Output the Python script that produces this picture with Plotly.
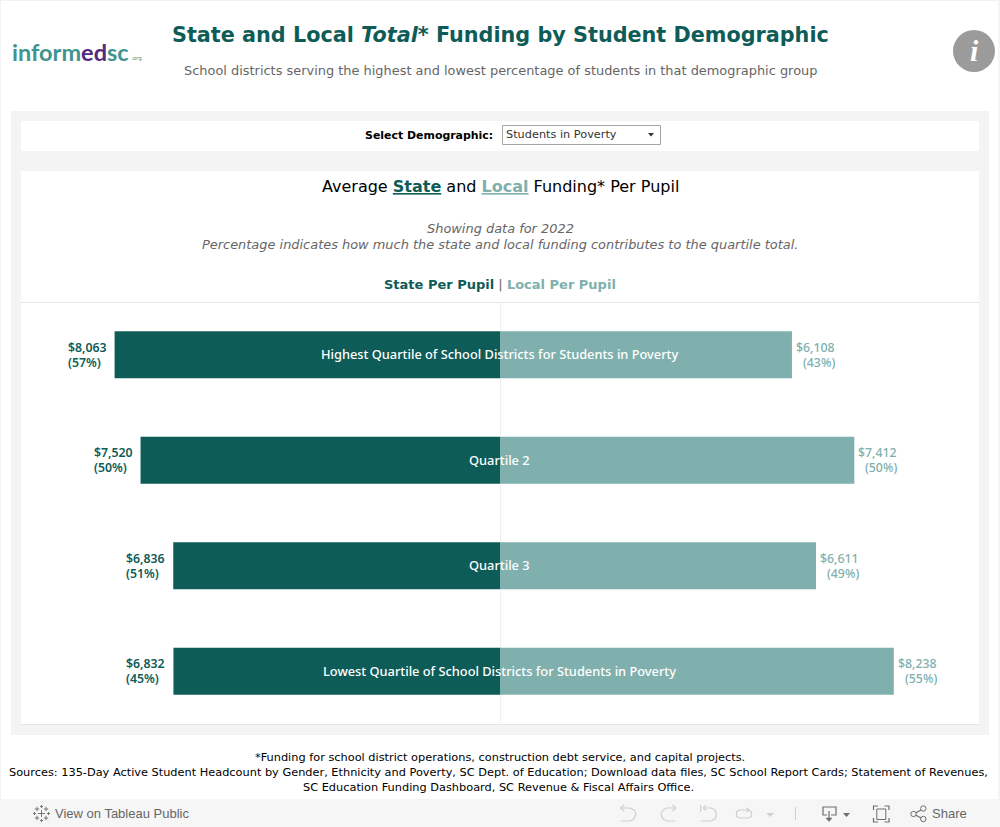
import plotly.graph_objects as go

W, H = 1000, 827
categories = ["Highest Quartile of School Districts for Students in Poverty", "Quartile 2", "Quartile 3",
              "Lowest Quartile of School Districts for Students in Poverty"]
state_per_pupil = [8063, 7520, 6836, 6832]
local_per_pupil = [6108, 7412, 6611, 8238]
state_share = [57, 50, 51, 45]
local_share = [43, 50, 49, 55]

DARK = "#0e5c57"
LIGHT = "#7fb0ad"
LOGO = "Lato"
LABEL = "Noto Sans"
SANS = "DejaVu Sans"
TOOL = "Liberation Sans"
PX_PER_USD = 0.0478


def fx(x):
    return x / W


def fy(y):
    return 1 - y / H


fig = go.Figure()
fig.add_trace(go.Bar(y=categories, x=[-v for v in state_per_pupil], orientation="h", marker_color=DARK,
                     marker_line_width=0, name="State Per Pupil", showlegend=False))
fig.add_trace(go.Bar(y=categories, x=local_per_pupil, orientation="h", marker_color=LIGHT,
                     marker_line_width=0, name="Local Per Pupil", showlegend=False))

shapes = []


def rect(x0, y0, x1, y1, fill, line=None, layer="below", lw=1):
    shapes.append(dict(type="rect", xref="paper", yref="paper", x0=fx(x0), x1=fx(x1), y0=fy(y0), y1=fy(y1),
                       fillcolor=fill, line=dict(color=line or fill, width=lw if line else 0), layer=layer))


def seg(x0, y0, x1, y1, color, layer="below", lw=1):
    shapes.append(dict(type="line", xref="paper", yref="paper", x0=fx(x0), x1=fx(x1), y0=fy(y0), y1=fy(y1),
                       line=dict(color=color, width=lw), layer=layer))


def path(points, color, fill=None, lw=1.2, closed=False):
    d = "M " + " L ".join(f"{fx(a):.5f},{fy(b):.5f}" for a, b in points) + (" Z" if closed else "")
    shapes.append(dict(type="path", xref="paper", yref="paper", path=d, fillcolor=fill or "rgba(0,0,0,0)",
                       line=dict(color=color, width=lw), layer="above"))


def circle(cx, cy, r, fill, line=None, lw=1, layer="above"):
    shapes.append(dict(type="circle", xref="paper", yref="paper", x0=fx(cx - r), x1=fx(cx + r), y0=fy(cy + r),
                       y1=fy(cy - r), fillcolor=fill, line=dict(color=line or fill, width=lw if line else 0),
                       layer=layer))


# page furniture
rect(0, 0, 1000, 1, "#f2f2f2")
rect(0, 0, 1, 799, "#f2f2f2")
rect(998, 0, 1000, 799, "#f5f5f5")
rect(11, 111, 989, 735, "#f4f4f4")
rect(21, 121, 979, 151, "#ffffff")
rect(21, 171, 979, 724, "#ffffff")
seg(21, 302.5, 979, 302.5, "#e6e6e6")
seg(21, 724.5, 979, 724.5, "#e6e6e6")
rect(0, 799, 1000, 827, "#f6f6f6")
seg(500.5, 302, 500.5, 724, "#eef1f1")
# dropdown
rect(502.5, 125.5, 660.5, 144.5, "#ffffff", line="#a6a6a6")
path([(648, 133), (654, 133), (651, 136.5)], "#333333", fill="#333333", lw=0, closed=True)
# info icon
circle(974, 51, 21, "#9b9b9b", layer="below")
# toolbar icons
PALE = "#cfcfcf"
INK = "#6e6e6e"
path([(620.5, 808), (630, 808), (634, 810), (636, 814), (634, 819), (630, 821), (621, 821)], PALE)
path([(620.5, 808), (624, 805)], PALE)
path([(620.5, 808), (624, 811)], PALE)
path([(676, 808), (667, 808), (663, 810), (661, 814), (663, 819), (667, 821), (675, 821)], PALE)
path([(676, 808), (672.5, 805)], PALE)
path([(676, 808), (672.5, 811)], PALE)
path([(700.7, 805), (700.7, 812)], PALE)
path([(703, 808), (711, 808), (715, 810), (716.5, 814), (715, 819), (711, 821), (701, 821)], PALE)
path([(703, 808), (706, 805.5)], PALE)
path([(703, 808), (706, 810.5)], PALE)
path([(749, 810), (739, 810), (736.5, 812), (736.5, 816), (739, 818), (749, 818), (751.5, 816), (751.5, 812), (749, 810)],
     PALE)
path([(749, 810), (746.5, 808)], PALE)
path([(749, 810), (746.5, 812)], PALE)
path([(766.5, 813), (774, 813), (770.2, 817)], PALE, fill=PALE, lw=0, closed=True)
seg(795.5, 807, 795.5, 820, PALE, layer="above")
path([(827, 815), (823, 815), (823, 807), (836, 807), (836, 815), (831, 815)], INK)
path([(829, 811), (829, 820)], INK)
path([(826, 818), (829, 821.5), (832, 818)], INK, fill=INK, lw=0.5, closed=True)
path([(843, 813), (850, 813), (846.5, 817)], INK, fill=INK, lw=0, closed=True)
path([(873.5, 810), (873.5, 806), (878, 806)], INK)
path([(884.5, 806), (889, 806), (889, 810)], INK)
path([(873.5, 818), (873.5, 822), (878, 822)], INK)
path([(884.5, 822), (889, 822), (889, 818)], INK)
rect(876.8, 809, 885.8, 819.5, "rgba(0,0,0,0)", line=INK, layer="above")
for cx, cy in [(913.5, 814), (923.3, 808.5), (923.3, 819)]:
    circle(cx, cy, 2.7, "rgba(0,0,0,0)", line=INK)
path([(916, 812.8), (921, 810)], INK)
path([(916, 815.2), (921, 818)], INK)
# Tableau mark
for cx, cy, arm in [(41.5, 813.5, 3.5), (37, 809, 2.2), (46, 809, 2.2), (37, 818, 2.2), (46, 818, 2.2),
                    (41.5, 806.5, 1.5), (41.5, 820.5, 1.5), (34.5, 813.5, 1.5), (48.5, 813.5, 1.5)]:
    path([(cx - arm, cy), (cx + arm, cy)], "#777777", lw=1)
    path([(cx, cy - arm), (cx, cy + arm)], "#777777", lw=1)

ann = []


def text(x, y, s, size, color, family=SANS, anchor="center"):
    ann.append(dict(xref="paper", yref="paper", x=fx(x), y=fy(y), text=s, showarrow=False, xanchor=anchor,
                    yanchor="middle", align=anchor, font=dict(size=size, color=color, family=family), borderpad=0,
                    borderwidth=0))


text(500, 35, "<b>State and Local <i>Total</i>* Funding by Student Demographic</b>", 20.75, DARK)
text(500, 70.5, "School districts serving the highest and lowest percentage of students in that demographic group",
     12.93, "#666666")
text(12, 52, '<b><span style="color:#3f9490">inform</span><span style="color:#532a7c">ed</span>'
     '<span style="color:#3f9490">sc</span></b>', 23.5, "#3f9490", family=LOGO, anchor="left")
text(131, 58, ".org", 5.5, "#3f9490", anchor="left")
text(974, 51, "<b><i>i</i></b>", 30, "#ffffff", family="Liberation Serif")
text(493, 136, "<b>Select Demographic:</b>", 10.95, "#000000", anchor="right")
text(506, 134, "Students in Poverty", 11.3, "#333333", anchor="left")
text(500, 186.5, f'Average <b><span style="color:{DARK};text-decoration:underline">State</span></b> and '
     f'<b><span style="color:{LIGHT};text-decoration:underline">Local</span></b> Funding* Per Pupil', 16, "#000000")
text(500, 228.5, "<i>Showing data for 2022</i>", 12.93, "#666666")
text(500, 244.5, "<i>Percentage indicates how much the state and local funding contributes "
     "to the quartile total.</i>", 12.93, "#666666")
text(500, 284.5, f'<b><span style="color:{DARK}">State Per Pupil</span></b> <span style="color:#666666">|</span> '
     f'<b><span style="color:{LIGHT}">Local Per Pupil</span></b>', 13, DARK)
text(500, 757, "*Funding for school district operations, construction debt service, and capital projects.", 11.34, "#000000")
text(498, 772, "Sources: 135-Day Active Student Headcount by Gender, Ethnicity and Poverty, SC Dept. of Education; Download "
     "data files, SC School Report Cards; Statement of Revenues,", 11.34, "#000000")
text(498, 787, "SC Education Funding Dashboard, SC Revenue &amp; Fiscal Affairs Office.", 11.34, "#000000")
text(55, 813.5, "View on Tableau Public", 13, "#666666", family=TOOL, anchor="left")
text(932, 813.5, "Share", 13, "#666666", family=TOOL, anchor="left")


def bar_label(x, cat, s, xshift, yshift, anchor, color, weight):
    ann.append(dict(xref="x", yref="y", x=x, y=cat, xshift=xshift, yshift=yshift, text=s, showarrow=False,
                    xanchor=anchor, yanchor="middle", font=dict(size=12.3, color=color, family=LABEL, weight=weight)))


# data labels and centred category names, placed through the data axes
for cat, s, l, sp, lp in zip(categories, state_per_pupil, local_per_pupil, state_share, local_share):
    ann.append(dict(xref="x", yref="y", x=0, y=cat, text=cat, xshift=-1, showarrow=False, xanchor="center",
                    yanchor="middle", yshift=0.5, font=dict(size=12.8, color="#ffffff", family=LABEL, weight=500)))
    bar_label(-s, cat, f"${s:,}", -49, 7.5, "left", DARK, 600)
    bar_label(-s, cat, f"({sp}%)", -49, -7.5, "left", DARK, 600)
    bar_label(l, cat, f"${l:,}", 45, 7.5, "right", LIGHT, 500)
    bar_label(l, cat, f"({lp}%)", 45, -7.5, "right", LIGHT, 500)

half = 500 / PX_PER_USD
fig.update_layout(
    width=W, height=H, margin=dict(l=0, r=0, t=0, b=0), paper_bgcolor="#ffffff", plot_bgcolor="rgba(0,0,0,0)",
    barmode="overlay", bargap=0.555, shapes=shapes, annotations=ann, showlegend=False,
    xaxis=dict(range=[-half, half], domain=[0, 1], visible=False),
    yaxis=dict(domain=[fy(724), fy(302)], autorange="reversed", type="category", visible=False),
)
fig.write_html("out.html", config=dict(displayModeBar=False),
               post_script="document.body.style.margin='0';")
